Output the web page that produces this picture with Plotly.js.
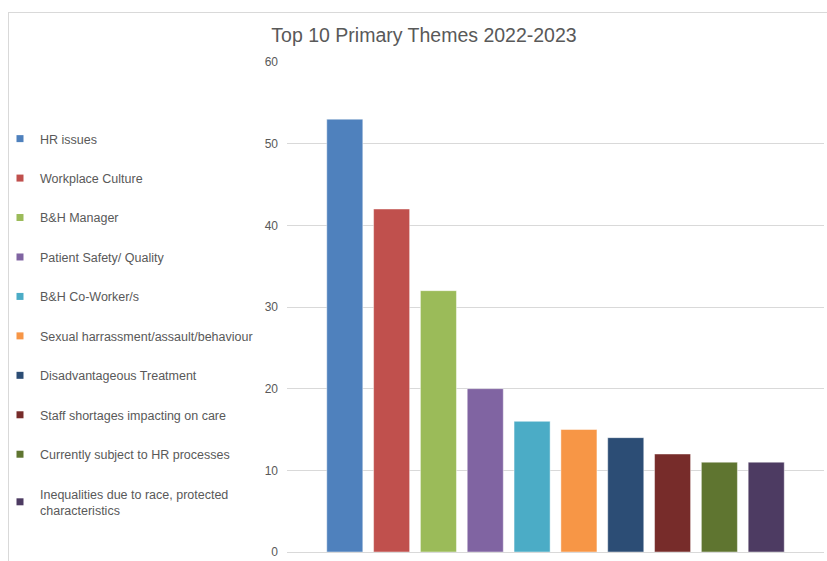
<!DOCTYPE html>
<html>
<head>
<meta charset="utf-8">
<script src="https://cdn.plot.ly/plotly-3.0.1.min.js"></script>
<style>
html,body{margin:0;padding:0;background:#fff;overflow:hidden;}
#chart{width:827px;height:561px;}
#frame{position:absolute;left:8px;top:12px;width:900px;height:700px;border:1px solid #d9d9d9;pointer-events:none;z-index:10;}
</style>
</head>
<body>
<div id="chart"></div>
<div id="frame"></div>
<script>
const categories = ["HR issues","Workplace Culture","B&H Manager","Patient Safety/ Quality","B&H Co-Worker/s","Sexual harrassment/assault/behaviour","Disadvantageous Treatment","Staff shortages impacting on care","Currently subject to HR processes","Inequalities due to race, protected<br>characteristics"];
const values = [53, 42, 32, 20, 16, 15, 14, 12, 11, 11];
const colors = ["#4F81BD","#C0504D","#9BBB59","#8064A2","#4BACC6","#F79646","#2C4D75","#772C2A","#5F7530","#4D3B62"];
const groupLabel = ["2022-2023"];

const barTraces = categories.map((c, i) => ({
  type: "bar",
  name: c,
  x: groupLabel,
  y: [values[i]],
  legendgroup: "g" + i,
  showlegend: false,
  marker: {color: colors[i], line: {color: "rgba(255,255,255,0.45)", width: 1}},
  hoverinfo: "name+y"
}));

// legend keys (small squares like the original)
const keyTraces = categories.map((c, i) => ({
  type: "scatter",
  mode: "markers",
  name: c,
  x: [null],
  y: [null],
  legendgroup: "g" + i,
  showlegend: true,
  marker: {color: colors[i], symbol: "square", size: 7}
}));

const layout = {
  width: 827, height: 561,
  margin: {l: 287, r: 3, t: 62, b: 9, autoexpand: false},
  paper_bgcolor: "#ffffff",
  plot_bgcolor: "#ffffff",
  font: {family: "Liberation Sans, Arial, sans-serif", color: "#595959", size: 12},
  title: {text: "Top 10 Primary Themes 2022-2023", font: {size: 19.5, color: "#595959"}, x: 424/827, xanchor: "center", xref: "container", y: 1 - 35/561, yanchor: "middle", yref: "container"},
  barmode: "group",
  bargap: 0.128,
  bargroupgap: 0.23,
  xaxis: {showticklabels: false, showgrid: false, zeroline: false, showline: false, ticks: "", type: "category"},
  yaxis: {range: [0, 60], dtick: 10, showgrid: true, gridcolor: "#d9d9d9", gridwidth: 1, zeroline: true, zerolinecolor: "#d9d9d9", zerolinewidth: 1, showline: false, ticks: "", ticklabelstandoff: 8, tickfont: {size: 12, color: "#595959"}},
  showlegend: true,
  legend: {xref: "container", yref: "container", x: 0, y: 1 - 124/561, xanchor: "left", yanchor: "top", traceorder: "grouped", tracegroupgap: 20.2, font: {size: 12.5, color: "#595959"}, bgcolor: "rgba(0,0,0,0)", itemwidth: 30, maxheight: 1}
};

Plotly.newPlot("chart", barTraces.concat(keyTraces), layout, {displayModeBar: false, staticPlot: true});
</script>
</body>
</html>
